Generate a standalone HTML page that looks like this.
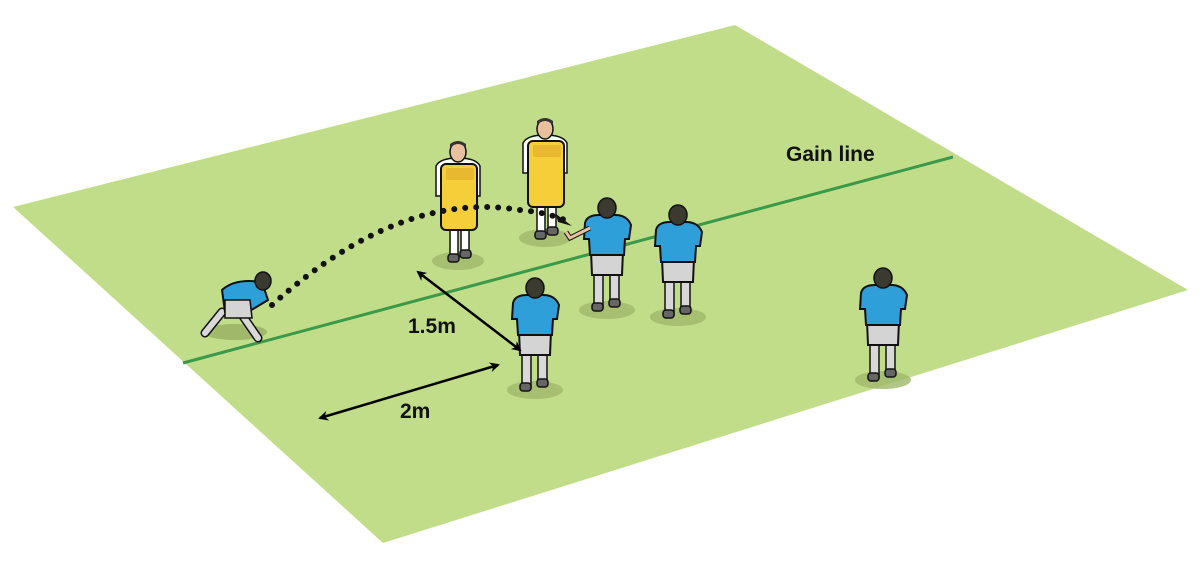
<!DOCTYPE html>
<html><head><meta charset="utf-8"><style>
html,body{margin:0;padding:0;background:#fff;}
svg{display:block;font-family:"Liberation Sans",Arial,sans-serif;}
</style></head><body>
<svg width="1201" height="568" viewBox="0 0 1201 568" xmlns="http://www.w3.org/2000/svg">
<defs>
<marker id="ah" markerWidth="10" markerHeight="10" refX="8" refY="5" orient="auto-start-reverse" markerUnits="userSpaceOnUse">
<path d="M0,0 L10,5 L0,10 L3,5 Z" fill="#000"/></marker>
<g id="blue">
 <ellipse cx="0" cy="95" rx="28" ry="9" fill="#9fb86a" opacity="0.8"/>
 <rect x="-13" y="55" width="9" height="38" fill="#d8d8d8" stroke="#111" stroke-width="1.5"/>
 <rect x="3" y="55" width="9" height="34" fill="#d8d8d8" stroke="#111" stroke-width="1.5"/>
 <rect x="-15" y="88" width="11" height="8" rx="3" fill="#666" stroke="#111" stroke-width="1.5"/>
 <rect x="2" y="84" width="11" height="8" rx="3" fill="#666" stroke="#111" stroke-width="1.5"/>
 <path d="M-16,36 L16,36 L15,60 L-15,60 Z" fill="#d4d4d4" stroke="#111" stroke-width="2"/>
 <path d="M-22,8 Q-20,0 -8,0 L8,0 Q20,0 24,10 L22,24 L18,24 L17,40 L-17,40 L-18,24 L-23,24 Z" fill="#2e9fd8" stroke="#111" stroke-width="2"/>
 <ellipse cx="0" cy="-7" rx="9" ry="10" fill="#3a3a30" stroke="#111" stroke-width="1.5"/>
</g>
<g id="pad">
 <ellipse cx="0" cy="105" rx="26" ry="9" fill="#9fb86a" opacity="0.8"/>
 <rect x="-8" y="70" width="8" height="32" fill="#fff" stroke="#111" stroke-width="1.5"/>
 <rect x="3" y="70" width="8" height="28" fill="#fff" stroke="#111" stroke-width="1.5"/>
 <rect x="-10" y="98" width="11" height="8" rx="3" fill="#666" stroke="#111" stroke-width="1.5"/>
 <rect x="2" y="94" width="11" height="8" rx="3" fill="#666" stroke="#111" stroke-width="1.5"/>
 <path d="M-22,10 Q-18,2 0,2 Q18,2 22,10 L22,40 L-22,40 Z" fill="#fff" stroke="#111" stroke-width="1.5"/>
 <ellipse cx="0" cy="-4" rx="8" ry="10" fill="#e8c0a0" stroke="#111" stroke-width="1.5"/>
 <path d="M-8,-8 Q0,-16 8,-8 L8,-12 Q0,-18 -8,-12 Z" fill="#333"/>
 <rect x="-17" y="8" width="36" height="66" rx="5" fill="#f5cf3a" stroke="#111" stroke-width="2"/>
 <rect x="-12" y="12" width="28" height="12" rx="2" fill="#e8b830"/>
</g>
</defs>
<rect width="1201" height="568" fill="#fff"/>
<polygon points="13,207 735,25 1188,290 383,543" fill="#c2dd8a"/>
<line x1="183" y1="363" x2="953" y2="157" stroke="#3a9a4a" stroke-width="3"/>
<text x="786" y="161" font-size="21" font-weight="bold" fill="#111">Gain line</text>

<use href="#pad" x="458" y="156"/>
<use href="#pad" x="545" y="133"/>

<path d="M272,305 Q400,190 520,210 Q545,212 565,220" fill="none" stroke="#111" stroke-width="6" stroke-linecap="round" stroke-dasharray="0,11"/>
<path d="M556,214 L572,226 L558,222 Z" fill="#111"/>

<ellipse cx="235" cy="332" rx="32" ry="8" fill="#9fb86a"/>
<path d="M222,312 L205,333 M240,312 L258,338" stroke="#111" stroke-width="9" stroke-linecap="round"/>
<path d="M222,312 L205,333 M240,312 L258,338" stroke="#d8d8d8" stroke-width="6" stroke-linecap="round"/>
<path d="M222,290 Q235,278 262,282 L268,300 L248,312 L225,312 Z" fill="#2e9fd8" stroke="#111" stroke-width="2"/>
<path d="M225,300 L250,300 L252,318 L225,318 Z" fill="#d4d4d4" stroke="#111" stroke-width="1.5"/>
<ellipse cx="263" cy="281" rx="8" ry="9" fill="#3a3a30" stroke="#111" stroke-width="1.5"/>

<use href="#blue" x="607" y="215"/>
<path d="M590,228 L570,238 L566,232" fill="none" stroke="#111" stroke-width="5"/>
<path d="M590,228 L570,238 L566,232" fill="none" stroke="#e8c0a0" stroke-width="3"/>
<use href="#blue" x="678" y="222"/>
<use href="#blue" x="535" y="295"/>
<use href="#blue" x="883" y="285"/>

<line x1="418" y1="272" x2="520" y2="350" stroke="#000" stroke-width="2.5" marker-start="url(#ah)" marker-end="url(#ah)"/>
<line x1="320" y1="418" x2="498" y2="365" stroke="#000" stroke-width="2.5" marker-start="url(#ah)" marker-end="url(#ah)"/>
<text x="408" y="333" font-size="21" font-weight="bold" fill="#111">1.5m</text>
<text x="400" y="418" font-size="21" font-weight="bold" fill="#111">2m</text>
</svg>
</body></html>
